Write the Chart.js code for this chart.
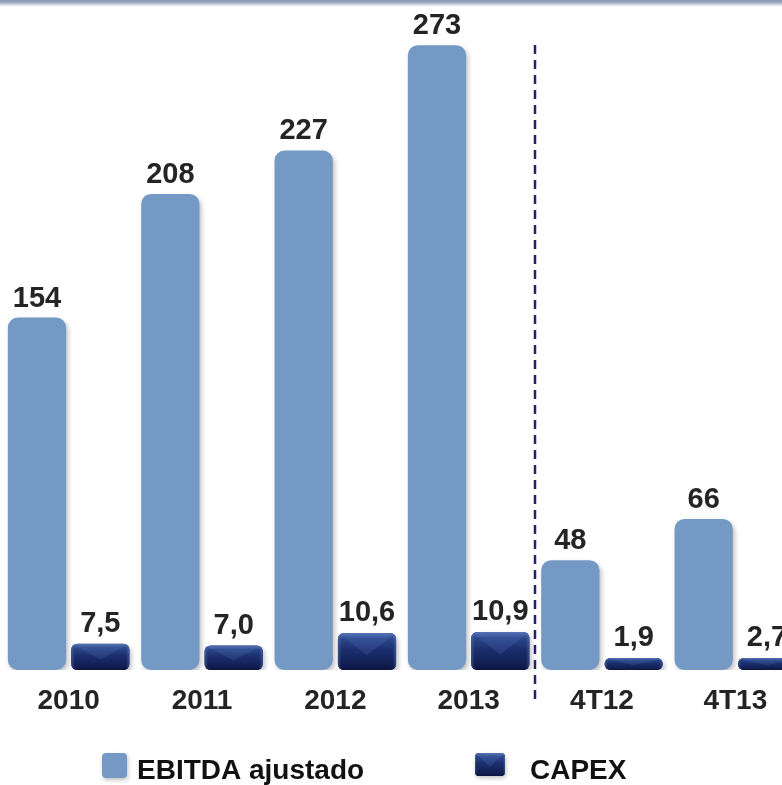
<!DOCTYPE html>
<html>
<head>
<meta charset="utf-8">
<script src="https://cdn.jsdelivr.net/npm/chart.js@4.4.1/dist/chart.umd.min.js"></script>
<style>
  html, body { margin: 0; padding: 0; background: #ffffff; overflow: hidden; width: 782px; height: 785px; }
  #wrap { position: relative; width: 802px; height: 785px; }
</style>
</head>
<body>
<div id="wrap"><canvas id="c" width="802" height="785"></canvas></div>
<script>
const categories = ['2010', '2011', '2012', '2013', '4T12', '4T13'];
const ebitda = [154, 208, 227, 273, 48, 66];
const capex = [7.5, 7.0, 10.6, 10.9, 1.9, 2.7];
const seriesNames = ['EBITDA ajustado', 'CAPEX'];
const capexDecimals = 1;

const LIGHT = '#7399c4';
const NAVY = '#16235e';
const TEXT = '#242424';
const FONT = "'Liberation Sans', Arial, sans-serif";

function fmt(v, dec) {
  return v.toFixed(dec).replace('.', ',');
}

function glossRect(ctx, left, top, w, h, r) {
  ctx.save();
  ctx.beginPath();
  ctx.roundRect(left, top, w, h, r);
  ctx.clip();
  const g = ctx.createLinearGradient(0, top, 0, top + h);
  g.addColorStop(0, '#5574b4');
  g.addColorStop(0.16, '#2b478a');
  g.addColorStop(0.45, '#1b2f6e');
  g.addColorStop(0.85, '#121e52');
  g.addColorStop(1, '#0b1442');
  ctx.fillStyle = g;
  ctx.fillRect(left, top, w, h);
  ctx.beginPath();
  ctx.moveTo(left, top);
  ctx.lineTo(left + w, top);
  ctx.lineTo(left + w / 2, top + h * 0.6);
  ctx.closePath();
  ctx.fillStyle = 'rgba(90,120,190,0.22)';
  ctx.fill();
  const gl = ctx.createLinearGradient(left, 0, left + w, 0);
  gl.addColorStop(0, 'rgba(120,150,210,0.35)');
  gl.addColorStop(0.06, 'rgba(120,150,210,0)');
  gl.addColorStop(0.94, 'rgba(120,150,210,0)');
  gl.addColorStop(1, 'rgba(120,150,210,0.35)');
  ctx.fillStyle = gl;
  ctx.fillRect(left, top, w, h);
  ctx.restore();
}

const decor = {
  id: 'decor',
  beforeDraw(chart) {
    const ctx = chart.ctx;
    const g = ctx.createLinearGradient(0, 0, 0, 7);
    g.addColorStop(0, '#8894ad');
    g.addColorStop(0.4, '#a3aec2');
    g.addColorStop(0.7, '#d9dee6');
    g.addColorStop(1, '#ffffff');
    ctx.save();
    ctx.fillStyle = g;
    ctx.fillRect(0, 0, chart.width, 7);
    ctx.restore();
  },
  beforeDatasetsDraw(chart) {
    const ctx = chart.ctx;
    ctx.save();
    ctx.shadowColor = 'rgba(0,0,0,0.25)';
    ctx.shadowBlur = 5;
    ctx.shadowOffsetX = 2;
    ctx.shadowOffsetY = 3;
  },
  afterDatasetsDraw(chart) {
    const ctx = chart.ctx;
    ctx.restore();

    const m1 = chart.getDatasetMeta(1);
    m1.data.forEach((el) => {
      const p = el.getProps(['x', 'y', 'base', 'width'], true);
      const top = Math.min(p.y, p.base);
      const h = Math.abs(p.base - p.y);
      glossRect(ctx, p.x - p.width / 2, top, p.width, h, 6);
    });

    ctx.save();
    ctx.fillStyle = TEXT;
    ctx.textAlign = 'center';
    ctx.textBaseline = 'alphabetic';
    ctx.font = 'bold 29px ' + FONT;
    chart.getDatasetMeta(0).data.forEach((el, i) => {
      const p = el.getProps(['x', 'y'], true);
      ctx.fillText(String(ebitda[i]), p.x, p.y - 11);
    });
    m1.data.forEach((el, i) => {
      const p = el.getProps(['x', 'y'], true);
      ctx.fillText(fmt(capex[i], capexDecimals), p.x, p.y - 12);
    });

    const xs = chart.scales.x;
    ctx.font = 'bold 28px ' + FONT;
    categories.forEach((c, i) => {
      ctx.fillText(c, xs.getPixelForValue(i), 709);
    });

    const sx = Math.round((xs.getPixelForValue(3) + xs.getPixelForValue(4)) / 2);
    ctx.strokeStyle = '#2a1f6e';
    ctx.lineWidth = 2.5;
    ctx.setLineDash([9, 6]);
    ctx.beginPath();
    ctx.moveTo(sx, 45);
    ctx.lineTo(sx, 700);
    ctx.stroke();
    ctx.setLineDash([]);

    ctx.save();
    ctx.shadowColor = 'rgba(0,0,0,0.25)';
    ctx.shadowBlur = 4;
    ctx.shadowOffsetX = 1;
    ctx.shadowOffsetY = 2;
    ctx.fillStyle = LIGHT;
    ctx.beginPath();
    ctx.roundRect(102, 753, 25, 25, 4);
    ctx.fill();
    ctx.fillStyle = NAVY;
    ctx.beginPath();
    ctx.roundRect(475, 753, 30, 23, 4);
    ctx.fill();
    ctx.restore();
    glossRect(ctx, 475, 753, 30, 23, 4);

    ctx.fillStyle = '#111111';
    ctx.textAlign = 'left';
    ctx.font = 'bold 28px ' + FONT;
    ctx.fillText(seriesNames[0], 137, 779);
    ctx.fillText(seriesNames[1], 530, 779);
    ctx.restore();
  }
};

new Chart(document.getElementById('c'), {
  type: 'bar',
  data: {
    labels: categories,
    datasets: [
      {
        label: seriesNames[0],
        data: ebitda,
        backgroundColor: LIGHT,
        borderRadius: 10,
        borderSkipped: false,
        yAxisID: 'y',
        barPercentage: 0.92,
        categoryPercentage: 0.95
      },
      {
        label: seriesNames[1],
        data: capex,
        backgroundColor: NAVY,
        borderRadius: 6,
        borderSkipped: false,
        yAxisID: 'y2',
        minBarLength: 12,
        barPercentage: 0.92,
        categoryPercentage: 0.95
      }
    ]
  },
  options: {
    responsive: false,
    animation: false,
    events: [],
    layout: { padding: { top: 20, bottom: 115, left: 2, right: 0 } },
    plugins: { legend: { display: false }, tooltip: { enabled: false } },
    scales: {
      x: { display: false },
      y: { display: false, min: 0, max: 284 },
      y2: { display: false, min: 0, max: 186, position: 'right' }
    }
  },
  plugins: [decor]
});
</script>
</body>
</html>
